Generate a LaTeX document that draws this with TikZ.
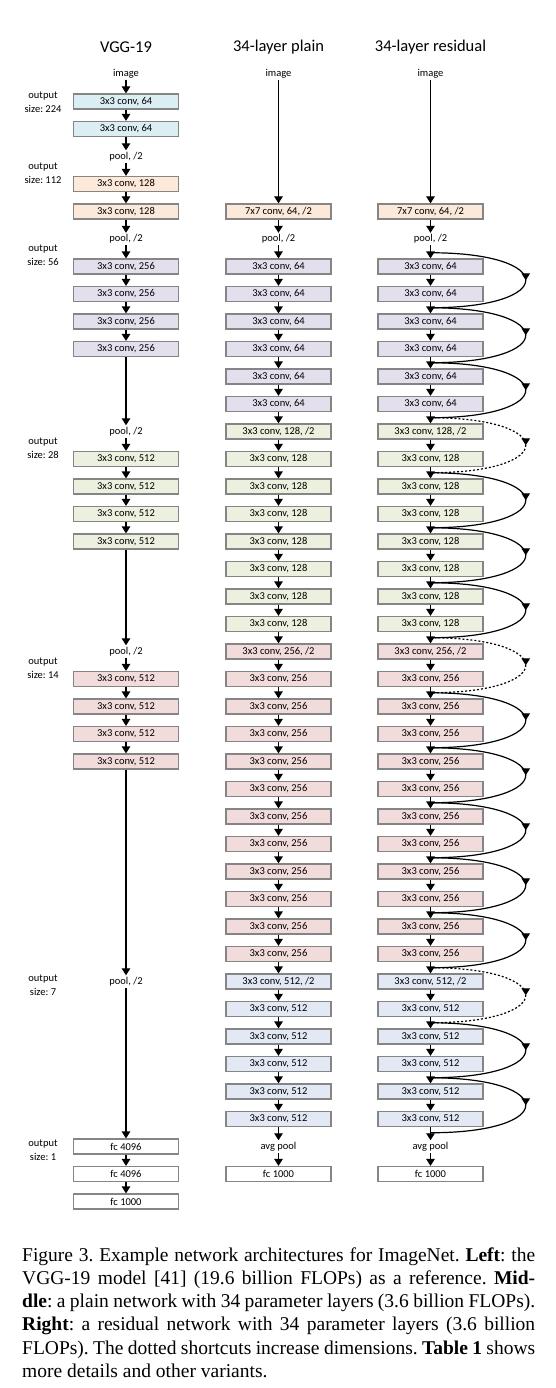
\documentclass[tikz,border=0pt]{standalone}
\usepackage{fontspec}
\setmainfont{Carlito}
\newfontfamily\capfont{Liberation Serif}
\usetikzlibrary{arrows.meta}
\usetikzlibrary{decorations.markings}

\definecolor{aqua}{HTML}{DAEEF3}
\definecolor{peach}{HTML}{FDE9D9}
\definecolor{lilac}{HTML}{E4DFEC}
\definecolor{sage}{HTML}{EBF1DE}
\definecolor{rose}{HTML}{F2DCDB}
\definecolor{ice}{HTML}{E2E8F4}
\definecolor{rim}{HTML}{858585}

\begin{document}
\frenchspacing
\begin{tikzpicture}
[every node/.style={inner sep=0pt},
 layer/.style={rectangle, minimum width=105pt, minimum height=15pt, draw=rim, line width=1.2pt, font=\fontsize{10.5}{12}\selectfont},
 bxaqua/.style={layer, fill=aqua},
 bxpeach/.style={layer, fill=peach},
 bxlilac/.style={layer, fill=lilac},
 bxsage/.style={layer, fill=sage},
 bxrose/.style={layer, fill=rose},
 bxice/.style={layer, fill=ice},
 bxwhite/.style={layer, fill=white},
 lbl/.style={inner sep=1.5pt, font=\fontsize{10.5}{12}\selectfont},
 side/.style={align=center, font=\fontsize{10.5}{14}\selectfont},
 title/.style={font=\fontsize{16.5}{20}\selectfont},
 captext/.style={anchor=base west, font=\capfont\fontsize{19.5}{23.3}\selectfont},
 flow/.style={line width=1.2pt, -{Triangle[width=8.5pt,length=7pt]}},
 skip/.style={line width=1.2pt, to path={.. controls +(127pt,0pt) and +(127pt,0pt) .. (\tikztotarget)},
   postaction={decorate}, decoration={markings, mark=at position 0.5 with {\arrow{Triangle[width=8.5pt,length=7pt]}}}},
 skipdim/.style={skip, dash pattern=on 2pt off 2pt}]
\useasboundingbox (0pt, 0pt) rectangle (556pt, -1388pt);
% titles
\node (t1) [title] at (126pt, -47pt) {VGG-19};
\node (t2) [title] at (278.5pt, -47pt) {34-layer plain};
\node (t3) [title] at (430.5pt, -47pt) {34-layer residual};
% output sizes
\node (o224) [side] at (43pt, -102pt) {output\\size: 224};
\node (o112) [side] at (43pt, -173pt) {output\\size: 112};
\node (o56) [side] at (43pt, -255pt) {output\\size: 56};
\node (o28) [side] at (43pt, -448pt) {output\\size: 28};
\node (o14) [side] at (43pt, -668pt) {output\\size: 14};
\node (o7) [side] at (43pt, -985pt) {output\\size: 7};
\node (o1) [side] at (43pt, -1150pt) {output\\size: 1};
% VGG-19
\node (vimg) [lbl] at (126pt, -74pt) {image};
\node (v1) [bxaqua] at (126pt, -101.5pt) {3x3 conv, 64};
\node (v2) [bxaqua] at (126pt, -129pt) {3x3 conv, 64};
\node (vp1) [lbl] at (126pt, -156.5pt) {pool, /2};
\node (v3) [bxpeach] at (126pt, -184pt) {3x3 conv, 128};
\node (v4) [bxpeach] at (126pt, -211.5pt) {3x3 conv, 128};
\node (vp2) [lbl] at (126pt, -239pt) {pool, /2};
\node (v5) [bxlilac] at (126pt, -266.5pt) {3x3 conv, 256};
\node (v6) [bxlilac] at (126pt, -294pt) {3x3 conv, 256};
\node (v7) [bxlilac] at (126pt, -321.5pt) {3x3 conv, 256};
\node (v8) [bxlilac] at (126pt, -349pt) {3x3 conv, 256};
\node (vp3) [lbl] at (126pt, -431.5pt) {pool, /2};
\node (v9) [bxsage] at (126pt, -459pt) {3x3 conv, 512};
\node (v10) [bxsage] at (126pt, -486.5pt) {3x3 conv, 512};
\node (v11) [bxsage] at (126pt, -514pt) {3x3 conv, 512};
\node (v12) [bxsage] at (126pt, -541.5pt) {3x3 conv, 512};
\node (vp4) [lbl] at (126pt, -651.5pt) {pool, /2};
\node (v13) [bxrose] at (126pt, -679pt) {3x3 conv, 512};
\node (v14) [bxrose] at (126pt, -706.5pt) {3x3 conv, 512};
\node (v15) [bxrose] at (126pt, -734pt) {3x3 conv, 512};
\node (v16) [bxrose] at (126pt, -761.5pt) {3x3 conv, 512};
\node (vp5) [lbl] at (126pt, -981.5pt) {pool, /2};
\node (vf1) [bxwhite] at (126pt, -1146.5pt) {fc 4096};
\node (vf2) [bxwhite] at (126pt, -1174pt) {fc 4096};
\node (vf3) [bxwhite] at (126pt, -1201.5pt) {fc 1000};
% 34-layer plain
\node (pimg) [lbl] at (278.5pt, -74pt) {image};
\node (p1) [bxpeach] at (278.5pt, -211.5pt) {7x7 conv, 64, /2};
\node (pp) [lbl] at (278.5pt, -239pt) {pool, /2};
\node (p2) [bxlilac] at (278.5pt, -266.5pt) {3x3 conv, 64};
\node (p3) [bxlilac] at (278.5pt, -294pt) {3x3 conv, 64};
\node (p4) [bxlilac] at (278.5pt, -321.5pt) {3x3 conv, 64};
\node (p5) [bxlilac] at (278.5pt, -349pt) {3x3 conv, 64};
\node (p6) [bxlilac] at (278.5pt, -376.5pt) {3x3 conv, 64};
\node (p7) [bxlilac] at (278.5pt, -404pt) {3x3 conv, 64};
\node (p8) [bxsage] at (278.5pt, -431.5pt) {3x3 conv, 128, /2};
\node (p9) [bxsage] at (278.5pt, -459pt) {3x3 conv, 128};
\node (p10) [bxsage] at (278.5pt, -486.5pt) {3x3 conv, 128};
\node (p11) [bxsage] at (278.5pt, -514pt) {3x3 conv, 128};
\node (p12) [bxsage] at (278.5pt, -541.5pt) {3x3 conv, 128};
\node (p13) [bxsage] at (278.5pt, -569pt) {3x3 conv, 128};
\node (p14) [bxsage] at (278.5pt, -596.5pt) {3x3 conv, 128};
\node (p15) [bxsage] at (278.5pt, -624pt) {3x3 conv, 128};
\node (p16) [bxrose] at (278.5pt, -651.5pt) {3x3 conv, 256, /2};
\node (p17) [bxrose] at (278.5pt, -679pt) {3x3 conv, 256};
\node (p18) [bxrose] at (278.5pt, -706.5pt) {3x3 conv, 256};
\node (p19) [bxrose] at (278.5pt, -734pt) {3x3 conv, 256};
\node (p20) [bxrose] at (278.5pt, -761.5pt) {3x3 conv, 256};
\node (p21) [bxrose] at (278.5pt, -789pt) {3x3 conv, 256};
\node (p22) [bxrose] at (278.5pt, -816.5pt) {3x3 conv, 256};
\node (p23) [bxrose] at (278.5pt, -844pt) {3x3 conv, 256};
\node (p24) [bxrose] at (278.5pt, -871.5pt) {3x3 conv, 256};
\node (p25) [bxrose] at (278.5pt, -899pt) {3x3 conv, 256};
\node (p26) [bxrose] at (278.5pt, -926.5pt) {3x3 conv, 256};
\node (p27) [bxrose] at (278.5pt, -954pt) {3x3 conv, 256};
\node (p28) [bxice] at (278.5pt, -981.5pt) {3x3 conv, 512, /2};
\node (p29) [bxice] at (278.5pt, -1009pt) {3x3 conv, 512};
\node (p30) [bxice] at (278.5pt, -1036.5pt) {3x3 conv, 512};
\node (p31) [bxice] at (278.5pt, -1064pt) {3x3 conv, 512};
\node (p32) [bxice] at (278.5pt, -1091.5pt) {3x3 conv, 512};
\node (p33) [bxice] at (278.5pt, -1119pt) {3x3 conv, 512};
\node (pavg) [lbl] at (278.5pt, -1146.5pt) {avg pool};
\node (pfc) [bxwhite] at (278.5pt, -1174pt) {fc 1000};
% 34-layer residual
\node (rimg) [lbl] at (430.5pt, -74pt) {image};
\node (r1) [bxpeach] at (430.5pt, -211.5pt) {7x7 conv, 64, /2};
\node (rp) [lbl] at (430.5pt, -239pt) {pool, /2};
\node (r2) [bxlilac] at (430.5pt, -266.5pt) {3x3 conv, 64};
\node (r3) [bxlilac] at (430.5pt, -294pt) {3x3 conv, 64};
\node (r4) [bxlilac] at (430.5pt, -321.5pt) {3x3 conv, 64};
\node (r5) [bxlilac] at (430.5pt, -349pt) {3x3 conv, 64};
\node (r6) [bxlilac] at (430.5pt, -376.5pt) {3x3 conv, 64};
\node (r7) [bxlilac] at (430.5pt, -404pt) {3x3 conv, 64};
\node (r8) [bxsage] at (430.5pt, -431.5pt) {3x3 conv, 128, /2};
\node (r9) [bxsage] at (430.5pt, -459pt) {3x3 conv, 128};
\node (r10) [bxsage] at (430.5pt, -486.5pt) {3x3 conv, 128};
\node (r11) [bxsage] at (430.5pt, -514pt) {3x3 conv, 128};
\node (r12) [bxsage] at (430.5pt, -541.5pt) {3x3 conv, 128};
\node (r13) [bxsage] at (430.5pt, -569pt) {3x3 conv, 128};
\node (r14) [bxsage] at (430.5pt, -596.5pt) {3x3 conv, 128};
\node (r15) [bxsage] at (430.5pt, -624pt) {3x3 conv, 128};
\node (r16) [bxrose] at (430.5pt, -651.5pt) {3x3 conv, 256, /2};
\node (r17) [bxrose] at (430.5pt, -679pt) {3x3 conv, 256};
\node (r18) [bxrose] at (430.5pt, -706.5pt) {3x3 conv, 256};
\node (r19) [bxrose] at (430.5pt, -734pt) {3x3 conv, 256};
\node (r20) [bxrose] at (430.5pt, -761.5pt) {3x3 conv, 256};
\node (r21) [bxrose] at (430.5pt, -789pt) {3x3 conv, 256};
\node (r22) [bxrose] at (430.5pt, -816.5pt) {3x3 conv, 256};
\node (r23) [bxrose] at (430.5pt, -844pt) {3x3 conv, 256};
\node (r24) [bxrose] at (430.5pt, -871.5pt) {3x3 conv, 256};
\node (r25) [bxrose] at (430.5pt, -899pt) {3x3 conv, 256};
\node (r26) [bxrose] at (430.5pt, -926.5pt) {3x3 conv, 256};
\node (r27) [bxrose] at (430.5pt, -954pt) {3x3 conv, 256};
\node (r28) [bxice] at (430.5pt, -981.5pt) {3x3 conv, 512, /2};
\node (r29) [bxice] at (430.5pt, -1009pt) {3x3 conv, 512};
\node (r30) [bxice] at (430.5pt, -1036.5pt) {3x3 conv, 512};
\node (r31) [bxice] at (430.5pt, -1064pt) {3x3 conv, 512};
\node (r32) [bxice] at (430.5pt, -1091.5pt) {3x3 conv, 512};
\node (r33) [bxice] at (430.5pt, -1119pt) {3x3 conv, 512};
\node (ravg) [lbl] at (430.5pt, -1146.5pt) {avg pool};
\node (rfc) [bxwhite] at (430.5pt, -1174pt) {fc 1000};
% shortcut ends
\coordinate (g1) at (430.5pt, -252.75pt);
\coordinate (g2) at (430.5pt, -307.75pt);
\coordinate (g3) at (430.5pt, -362.75pt);
\coordinate (g4) at (430.5pt, -417.75pt);
\coordinate (g5) at (430.5pt, -472.75pt);
\coordinate (g6) at (430.5pt, -527.75pt);
\coordinate (g7) at (430.5pt, -582.75pt);
\coordinate (g8) at (430.5pt, -637.75pt);
\coordinate (g9) at (430.5pt, -692.75pt);
\coordinate (g10) at (430.5pt, -747.75pt);
\coordinate (g11) at (430.5pt, -802.75pt);
\coordinate (g12) at (430.5pt, -857.75pt);
\coordinate (g13) at (430.5pt, -912.75pt);
\coordinate (g14) at (430.5pt, -967.75pt);
\coordinate (g15) at (430.5pt, -1022.75pt);
\coordinate (g16) at (430.5pt, -1077.75pt);
\coordinate (g17) at (430.5pt, -1132.75pt);
% VGG-19 flow
\draw [flow] (vimg) to (v1);
\draw [flow] (v1) to (v2);
\draw [flow] (v2) to (vp1);
\draw [flow] (vp1) to (v3);
\draw [flow] (v3) to (v4);
\draw [flow] (v4) to (vp2);
\draw [flow] (vp2) to (v5);
\draw [flow] (v5) to (v6);
\draw [flow] (v6) to (v7);
\draw [flow] (v7) to (v8);
\draw [flow] (v8) to (vp3);
\draw [flow] (vp3) to (v9);
\draw [flow] (v9) to (v10);
\draw [flow] (v10) to (v11);
\draw [flow] (v11) to (v12);
\draw [flow] (v12) to (vp4);
\draw [flow] (vp4) to (v13);
\draw [flow] (v13) to (v14);
\draw [flow] (v14) to (v15);
\draw [flow] (v15) to (v16);
\draw [flow] (v16) to (vp5);
\draw [flow] (vp5) to (vf1);
\draw [flow] (vf1) to (vf2);
\draw [flow] (vf2) to (vf3);
% plain flow
\draw [flow] (pimg) to (p1);
\draw [flow] (p1) to (pp);
\draw [flow] (pp) to (p2);
\draw [flow] (p2) to (p3);
\draw [flow] (p3) to (p4);
\draw [flow] (p4) to (p5);
\draw [flow] (p5) to (p6);
\draw [flow] (p6) to (p7);
\draw [flow] (p7) to (p8);
\draw [flow] (p8) to (p9);
\draw [flow] (p9) to (p10);
\draw [flow] (p10) to (p11);
\draw [flow] (p11) to (p12);
\draw [flow] (p12) to (p13);
\draw [flow] (p13) to (p14);
\draw [flow] (p14) to (p15);
\draw [flow] (p15) to (p16);
\draw [flow] (p16) to (p17);
\draw [flow] (p17) to (p18);
\draw [flow] (p18) to (p19);
\draw [flow] (p19) to (p20);
\draw [flow] (p20) to (p21);
\draw [flow] (p21) to (p22);
\draw [flow] (p22) to (p23);
\draw [flow] (p23) to (p24);
\draw [flow] (p24) to (p25);
\draw [flow] (p25) to (p26);
\draw [flow] (p26) to (p27);
\draw [flow] (p27) to (p28);
\draw [flow] (p28) to (p29);
\draw [flow] (p29) to (p30);
\draw [flow] (p30) to (p31);
\draw [flow] (p31) to (p32);
\draw [flow] (p32) to (p33);
\draw [flow] (p33) to (pavg);
\draw [flow] (pavg) to (pfc);
% residual flow
\draw [flow] (rimg) to (r1);
\draw [flow] (r1) to (rp);
\draw [flow] (rp) to (r2);
\draw [flow] (r2) to (r3);
\draw [flow] (r3) to (r4);
\draw [flow] (r4) to (r5);
\draw [flow] (r5) to (r6);
\draw [flow] (r6) to (r7);
\draw [flow] (r7) to (r8);
\draw [flow] (r8) to (r9);
\draw [flow] (r9) to (r10);
\draw [flow] (r10) to (r11);
\draw [flow] (r11) to (r12);
\draw [flow] (r12) to (r13);
\draw [flow] (r13) to (r14);
\draw [flow] (r14) to (r15);
\draw [flow] (r15) to (r16);
\draw [flow] (r16) to (r17);
\draw [flow] (r17) to (r18);
\draw [flow] (r18) to (r19);
\draw [flow] (r19) to (r20);
\draw [flow] (r20) to (r21);
\draw [flow] (r21) to (r22);
\draw [flow] (r22) to (r23);
\draw [flow] (r23) to (r24);
\draw [flow] (r24) to (r25);
\draw [flow] (r25) to (r26);
\draw [flow] (r26) to (r27);
\draw [flow] (r27) to (r28);
\draw [flow] (r28) to (r29);
\draw [flow] (r29) to (r30);
\draw [flow] (r30) to (r31);
\draw [flow] (r31) to (r32);
\draw [flow] (r32) to (r33);
\draw [flow] (r33) to (ravg);
\draw [flow] (ravg) to (rfc);
% shortcuts
\draw [skip] (g1) to (g2);
\draw [skip] (g2) to (g3);
\draw [skip] (g3) to (g4);
\draw [skipdim] (g4) to (g5);
\draw [skip] (g5) to (g6);
\draw [skip] (g6) to (g7);
\draw [skip] (g7) to (g8);
\draw [skipdim] (g8) to (g9);
\draw [skip] (g9) to (g10);
\draw [skip] (g10) to (g11);
\draw [skip] (g11) to (g12);
\draw [skip] (g12) to (g13);
\draw [skip] (g13) to (g14);
\draw [skipdim] (g14) to (g15);
\draw [skip] (g15) to (g16);
\draw [skip] (g16) to (g17);
% caption
\node (c1) [captext] at (22pt, -1261pt) {\makebox[513pt][s]{Figure 3. Example network architectures for ImageNet. \textbf{Left}: the}};
\node (c2) [captext] at (22pt, -1284.3pt) {\makebox[513pt][s]{VGG-19 model [41] (19.6 billion FLOPs) as a reference. \textbf{Mid-}}};
\node (c3) [captext] at (22pt, -1307.6pt) {\makebox[513pt][s]{\textbf{dle}: a plain network with 34 parameter layers (3.6 billion FLOPs).}};
\node (c4) [captext] at (22pt, -1330.9pt) {\makebox[513pt][s]{\textbf{Right}: a residual network with 34 parameter layers (3.6 billion}};
\node (c5) [captext] at (22pt, -1354.2pt) {\makebox[513pt][s]{FLOPs). The dotted shortcuts increase dimensions. \textbf{Table 1} shows}};
\node (c6) [captext] at (22pt, -1377.5pt) {more details and other variants.};
\end{tikzpicture}
\end{document}
